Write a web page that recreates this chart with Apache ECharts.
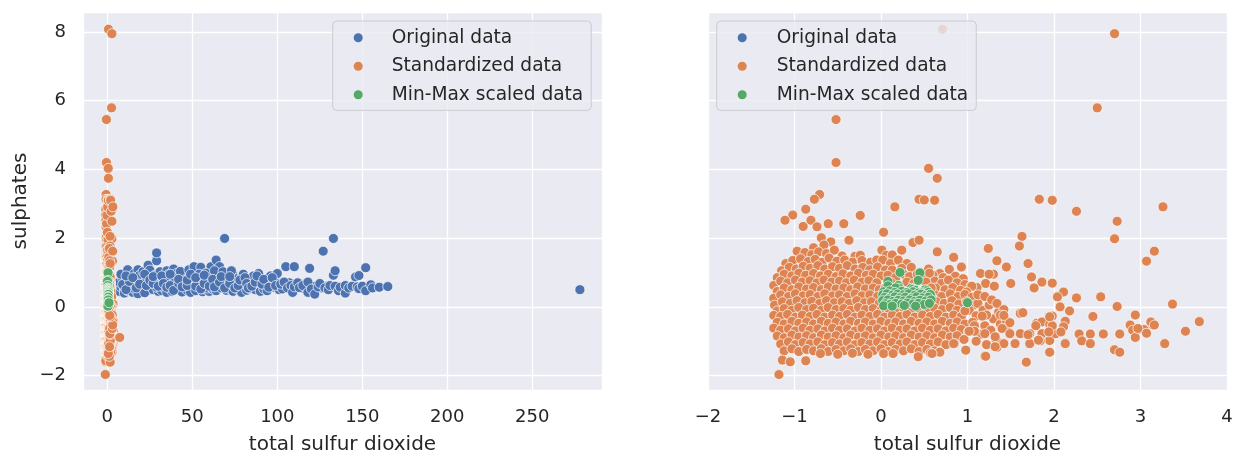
<!DOCTYPE html>
<html>
<head>
<meta charset="utf-8">
<script src="https://cdn.jsdelivr.net/npm/echarts@6/dist/echarts.min.js"></script>
<style>
html,body{margin:0;padding:0;background:#fff;}
#chart{width:1242px;height:454px;}
</style>
</head>
<body>
<div id="chart"></div>
<script>
// ---------------- DATA ----------------
const seriesNames = ['Original data', 'Standardized data', 'Min-Max scaled data'];
const xAxisTitle = 'total sulfur dioxide';
const yAxisTitle = 'sulphates';
const leftXTicks = [0, 50, 100, 150, 200, 250];
const rightXTicks = [-2, -1, 0, 1, 2, 3, 4];
const yTicks = [-2, 0, 2, 4, 6, 8];

// Original data: [total sulfur dioxide, sulphates]
const originalData = [
[7,0.45],[8,0.58],[7,0.72],[9,0.82],[10,0.52],[8,0.95],[11,0.66],[10,0.40],
[12,1.08],[13,0.85],[14,0.58],[12,0.47],[15,0.72],[16,0.98],[15,0.42],[14,0.63],[16,0.52],
[18,1.08],[19,0.79],[18,0.60],[20,0.50],[21,0.68],[19,0.92],[21,1.02],[20,0.44],[17,0.71],[18,0.38],
[22,0.58],[23,0.87],[24,1.21],[25,0.64],[24,0.48],[26,0.97],[23,0.73],[26,0.55],[25,1.07],[22,0.41],
[28,0.62],[29,1.34],[29,1.57],[30,0.82],[27,0.50],[31,0.70],[28,0.92],[30,0.45],[31,1.02],[29,0.57],
[33,0.60],[34,0.85],[32,0.47],[35,1.05],[36,0.66],[33,0.76],[34,0.52],[36,0.94],[35,0.42],
[38,0.58],[39,1.10],[37,0.78],[40,0.65],[41,0.88],[38,0.45],[40,0.52],[39,0.70],[41,0.98],
[43,0.62],[44,0.83],[42,0.50],[45,0.72],[46,0.55],[44,0.43],[45,0.95],[43,1.03],[46,0.66],
[48,1.08],[49,0.60],[47,0.48],[50,0.73],[51,0.90],[48,0.85],[50,0.52],[51,1.17],[49,0.42],
[53,0.63],[54,0.80],[52,0.47],[55,1.15],[56,0.58],[54,0.95],[53,0.72],[56,0.44],[55,0.67],
[58,0.60],[59,0.86],[57,0.52],[60,0.74],[61,1.17],[58,0.98],[60,0.45],[61,0.64],[59,0.55],
[63,0.68],[64,1.36],[65,0.92],[62,0.52],[66,1.17],[63,1.05],[66,0.60],[64,0.47],[65,0.78],
[68,0.73],[69,1.99],[67,0.55],[70,0.88],[71,0.62],[68,1.02],[70,0.48],[69,0.66],[71,0.80],
[73,0.60],[74,0.93],[72,0.52],[75,0.70],[76,0.82],[74,0.45],[73,1.05],[76,0.58],
[78,0.66],[79,0.85],[77,0.50],[80,0.72],[81,0.60],[79,0.42],[80,0.95],
[83,0.62],[84,0.78],[82,0.48],[85,0.70],[86,0.90],[84,0.53],
[88,0.65],[89,0.82],[87,0.50],[90,0.73],[91,0.58],[89,0.97],[90,0.45],
[93,0.62],[94,0.80],[92,0.52],[95,0.68],[96,0.90],[94,0.47],
[98,0.57],[99,0.75],[97,0.65],[100,0.97],[101,0.50],[100,0.68],
[9,0.65],[11,0.50],[13,0.74],[11,0.90],[15,0.85],[17,0.55],[19,0.66],[22,0.95],[23,0.62],[25,0.78],
[27,0.68],[27,0.88],[30,0.60],[32,0.90],[33,0.68],[35,0.57],[37,0.62],[37,0.95],[39,0.48],[42,0.68],
[42,0.80],[44,0.58],[47,0.62],[47,0.78],[49,0.95],[52,0.60],[52,0.85],[55,0.52],[57,0.68],[57,0.92],
[60,0.60],[62,0.80],[63,0.58],[66,0.72],[67,0.88],[69,0.55],[72,0.68],[72,0.88],[75,0.55],[77,0.62],
[78,0.78],[81,0.85],[82,0.68],[83,0.55],[85,0.60],[87,0.72],[88,0.90],[91,0.66],[92,0.80],[95,0.57],
[97,0.85],[99,0.62],[103,0.52],[107,0.70],[111,0.62],[114,0.66],[116,0.52],[121,0.60],[126,0.55],[129,0.60],
[102,0.66],[104,0.72],[105,1.17],[106,0.55],[108,0.62],[109,0.42],[110,1.17],[110,0.58],[112,0.70],[113,0.56],
[115,0.62],[118,0.42],[118,0.72],[119,1.12],[120,0.52],[122,0.37],[124,0.58],[125,0.68],[127,1.62],[128,0.55],
[130,0.50],[131,0.62],[133,1.99],[133,0.92],[134,1.05],[134,0.60],[136,0.47],[137,0.57],[140,0.40],[140,0.62],
[142,0.55],[144,0.60],[146,0.87],[147,0.58],[148,0.91],[148,0.53],[150,0.60],[152,1.14],[152,0.47],[155,0.64],
[156,0.55],[160,0.57],[165,0.59],[278,0.50]
];

// Standardized data: [total sulfur dioxide (z), sulphates (z)]
const standardizedData = [
[-0.69,2.01],[-0.58,1.89],[-0.66,1.80],[-0.37,1.94],[0.37,1.87],[0.44,1.94],[0.65,1.60],[-0.78,1.72],
[-0.97,1.62],[-0.88,1.58],[-0.80,1.52],[-0.72,1.60],[-0.63,1.55],[-0.54,1.65],[-0.45,1.48],[-0.30,1.47],[-0.24,1.50],[0.01,1.65],[0.06,1.50],[0.24,1.65],[0.13,1.51],
[-1.10,1.26],[-1.02,1.35],[-0.93,1.40],[-0.84,1.32],[-0.76,1.38],[-0.68,1.30],[-0.60,1.42],[-0.51,1.33],[-0.42,1.36],[-0.33,1.30],[-0.22,1.35],[-0.12,1.30],[-0.05,1.36],[0.02,1.36],[0.11,1.26],[0.20,1.36],[0.30,1.26],[0.84,1.44],[0.93,1.15],
[-1.15,1.05],[-1.06,1.15],[-0.98,1.10],[-0.90,1.18],[-0.82,1.12],[-0.73,1.20],[-0.65,1.10],[-0.56,1.17],[-0.48,1.12],[-0.39,1.20],[-0.30,1.10],[-0.21,1.15],[-0.13,1.08],[-0.04,1.16],[0.05,1.07],[0.13,1.07],[0.24,1.12],[0.35,1.15],[0.55,1.10],[0.68,0.97],[0.79,1.09],[0.86,0.89],
[-1.20,0.85],[-1.12,0.95],[-1.03,0.90],[-0.95,0.98],[-0.87,0.92],[-0.78,0.97],[-0.70,0.90],[-0.61,0.95],[-0.52,0.88],[-0.44,0.96],[-0.35,0.90],[-0.26,0.98],[-0.17,0.92],[-0.09,0.95],[0.00,0.90],[0.60,0.92],[0.72,0.85],[0.95,0.82],
[-1.24,0.62],[-1.16,0.75],[-1.08,0.70],[-0.99,0.78],[-0.91,0.72],[-0.82,0.76],[-0.74,0.70],[-0.66,0.78],[-0.57,0.72],[-0.48,0.75],[-0.40,0.70],[-0.31,0.78],[-0.22,0.72],[-0.14,0.76],[-0.05,0.70],[0.62,0.75],[0.70,0.68],[0.78,0.78],[0.88,0.70],[0.97,0.65],[1.04,0.60],[1.11,0.56],
[-1.20,0.45],[-1.12,0.55],[-1.03,0.50],[-0.95,0.58],[-0.86,0.52],[-0.78,0.56],[-0.69,0.50],[-0.61,0.58],[-0.52,0.52],[-0.43,0.55],[-0.35,0.50],[-0.27,0.58],[-0.18,0.52],[-0.09,0.55],[-0.02,0.50],[0.63,0.55],[0.74,0.50],[0.83,0.56],[0.92,0.48],[1.05,0.60],[0.99,0.43],
[-1.24,0.25],[-1.16,0.35],[-1.07,0.30],[-0.99,0.38],[-0.90,0.32],[-0.82,0.36],[-0.73,0.30],[-0.65,0.38],[-0.56,0.32],[-0.48,0.35],[-0.39,0.30],[-0.30,0.38],[-0.22,0.32],[-0.13,0.35],[-0.04,0.30],[0.62,0.35],[0.70,0.30],[0.80,0.38],[0.89,0.30],[0.97,0.36],[1.05,0.28],
[-1.23,0.05],[-1.14,0.15],[-1.05,0.10],[-0.97,0.18],[-0.88,0.12],[-0.80,0.16],[-0.71,0.10],[-0.63,0.18],[-0.54,0.12],[-0.45,0.15],[-0.37,0.10],[-0.28,0.18],[-0.19,0.12],[-0.11,0.15],[-0.02,0.10],[0.64,0.15],[0.73,0.10],[0.82,0.18],[0.90,0.08],[0.99,0.15],[1.07,0.05],
[-1.20,-0.12],[-1.12,-0.05],[-1.03,-0.10],[-0.95,-0.02],[-0.86,-0.08],[-0.78,-0.04],[-0.69,-0.10],[-0.61,-0.02],[-0.52,-0.08],[-0.43,-0.05],[-0.35,-0.10],[-0.26,-0.02],[-0.18,-0.08],[-0.09,-0.05],[0.00,-0.10],[0.08,-0.04],[0.17,-0.08],[0.26,-0.02],[0.35,-0.10],[0.44,-0.05],[0.53,-0.10],[0.62,-0.04],[0.71,-0.08],[0.80,-0.02],[0.88,-0.10],[0.97,-0.12],[1.02,-0.10],
[-1.24,-0.25],[-1.16,-0.28],[-1.08,-0.22],[-0.99,-0.30],[-0.91,-0.24],[-0.82,-0.28],[-0.74,-0.22],[-0.65,-0.30],[-0.56,-0.24],[-0.48,-0.28],[-0.39,-0.22],[-0.30,-0.30],[-0.22,-0.24],[-0.13,-0.28],[-0.04,-0.22],[0.04,-0.30],[0.13,-0.24],[0.22,-0.28],[0.30,-0.22],[0.39,-0.30],[0.48,-0.24],[0.57,-0.28],[0.66,-0.22],[0.75,-0.30],[0.84,-0.24],[0.93,-0.28],[1.10,-0.26],
[-1.20,-0.45],[-1.12,-0.50],[-1.03,-0.42],[-0.95,-0.48],[-0.86,-0.44],[-0.78,-0.50],[-0.69,-0.42],[-0.61,-0.48],[-0.52,-0.44],[-0.43,-0.50],[-0.35,-0.42],[-0.26,-0.48],[-0.18,-0.44],[-0.09,-0.50],[0.00,-0.42],[0.09,-0.48],[0.17,-0.44],[0.26,-0.50],[0.35,-0.42],[0.44,-0.48],[0.53,-0.44],[0.62,-0.50],[0.71,-0.42],[0.80,-0.48],[0.88,-0.44],[0.97,-0.50],[1.06,-0.45],
[-1.24,-0.62],[-1.16,-0.68],[-1.07,-0.64],[-0.99,-0.70],[-0.90,-0.62],[-0.82,-0.68],[-0.73,-0.64],[-0.65,-0.70],[-0.56,-0.62],[-0.48,-0.68],[-0.39,-0.64],[-0.30,-0.70],[-0.22,-0.62],[-0.13,-0.68],[-0.04,-0.64],[0.04,-0.70],[0.13,-0.62],[0.22,-0.68],[0.30,-0.64],[0.39,-0.70],[0.48,-0.62],[0.57,-0.68],[0.66,-0.64],[0.75,-0.70],[0.84,-0.62],[0.93,-0.66],[1.01,-0.72],
[-1.20,-0.85],[-1.12,-0.90],[-1.03,-0.82],[-0.95,-0.88],[-0.86,-0.84],[-0.78,-0.90],[-0.69,-0.82],[-0.61,-0.88],[-0.52,-0.84],[-0.43,-0.90],[-0.35,-0.82],[-0.26,-0.88],[-0.18,-0.84],[-0.09,-0.90],[0.00,-0.82],[0.09,-0.88],[0.17,-0.84],[0.26,-0.90],[0.35,-0.82],[0.44,-0.88],[0.53,-0.84],[0.62,-0.90],[0.71,-0.82],[0.80,-0.88],[0.88,-0.84],[0.96,-0.95],
[-1.16,-1.08],[-1.07,-1.02],[-0.99,-1.10],[-0.90,-1.04],[-0.82,-1.08],[-0.73,-1.02],[-0.65,-1.10],[-0.56,-1.04],[-0.48,-1.08],[-0.39,-1.02],[-0.30,-1.10],[-0.22,-1.04],[-0.13,-1.08],[-0.04,-1.02],[0.04,-1.10],[0.13,-1.04],[0.22,-1.08],[0.30,-1.02],[0.39,-1.10],[0.48,-1.04],[0.57,-1.08],[0.66,-1.02],[0.75,-1.10],[0.85,-1.07],
[-1.12,-1.28],[-1.03,-1.22],[-0.95,-1.30],[-0.86,-1.24],[-0.78,-1.28],[-0.69,-1.22],[-0.61,-1.30],[-0.52,-1.24],[-0.43,-1.28],[-0.35,-1.22],[-0.26,-1.30],[-0.18,-1.24],[-0.09,-1.28],[0.00,-1.22],[0.09,-1.30],[0.17,-1.24],[0.26,-1.28],[0.35,-1.22],[0.44,-1.30],[0.53,-1.24],[0.62,-1.28],[0.98,-1.26],
[-1.14,-1.55],[-1.05,-1.60],[-0.87,-1.57],[-0.70,-1.36],[-0.50,-1.38],[-0.33,-1.35],[-0.15,-1.38],[0.03,-1.36],[0.14,-1.36],[0.43,-1.45],[0.57,-1.34],[0.68,-1.31],[1.20,-1.43],[-1.18,-1.97],
[0.08,0.92],[0.17,0.85],[0.26,0.95],[0.33,0.88],[0.42,0.95],[0.50,0.85],[0.56,0.98],[0.12,0.70],[0.30,0.72],[0.38,0.68],[0.52,0.72],[0.05,0.55],[0.58,0.55],[0.05,0.30],[0.58,0.30],[0.30,0.35],[0.15,0.25],[0.45,0.20],
[1.12,0.10],[1.18,-0.10],[1.25,0.05],[1.30,-0.35],[1.20,-0.55],[1.27,-0.68],[1.15,-0.80],[1.33,-0.95],[1.10,-1.00],[1.22,-1.10],[1.38,-0.50],[1.45,-0.40],[1.12,0.35],[1.20,0.30],[1.28,0.20],[1.36,-0.15],[1.45,-0.62],[1.08,-0.55],
[-0.52,5.45],[-0.52,4.20],[-0.71,3.27],[-0.77,3.13],[-0.87,2.84],[-1.02,2.67],[-1.11,2.52],[-0.81,2.52],[-0.90,2.34],[-0.74,2.33],[-0.61,2.42],[-0.43,2.42],[-0.24,2.66],[0.03,2.17],[0.16,2.91],
[0.55,4.03],[0.65,3.74],[0.44,3.13],[0.50,3.11],[0.62,3.10],[0.71,8.08],[2.70,7.95],[2.50,5.79],[1.83,3.13],[1.98,3.10],[2.26,2.78],[3.26,2.91],[2.73,2.49],[2.70,1.98],
[1.63,2.05],[1.60,1.77],[1.24,1.70],[3.16,1.62],[3.07,1.33],[1.34,1.34],[0.93,1.16],[1.45,1.16],[1.70,1.26],[1.15,0.97],[1.30,0.95],[1.25,0.95],[1.74,0.87],[1.86,0.72],[1.98,0.69],
[1.50,0.68],[1.77,0.55],[1.21,0.68],[1.31,0.60],[2.11,0.43],[2.04,0.29],[2.26,0.26],[2.54,0.29],[3.37,0.08],[2.73,0.01],[2.07,0.00],[2.18,-0.12],[1.34,0.10],[1.42,-0.08],
[1.38,-0.24],[1.61,-0.19],[1.64,-0.17],[1.22,-0.24],[1.17,-0.27],[0.97,-0.12],[1.98,-0.27],[2.45,-0.28],[2.94,-0.24],[3.68,-0.43],[2.13,-0.42],[1.49,-0.46],[1.80,-0.48],[1.86,-0.44],
[1.95,-0.51],[3.14,-0.53],[3.12,-0.44],[2.88,-0.53],[2.91,-0.68],[2.98,-0.65],[3.04,-0.66],[3.07,-0.77],[2.94,-0.89],[3.52,-0.71],[3.28,-1.07],[2.76,-0.79],[2.57,-0.79],[2.42,-0.79],
[2.29,-0.79],[2.32,-0.99],[2.42,-1.07],[2.70,-1.25],[2.76,-1.32],[2.13,-1.07],[1.95,-0.98],[1.95,-1.32],[2.02,-0.78],[1.86,-0.78],[1.72,-0.78],[1.61,-0.78],[1.55,-1.07],[1.72,-1.07],
[1.84,-0.99],[1.68,-1.61],[1.21,-1.44],[1.34,-1.18],[1.42,-1.07],[1.32,-0.87],[1.20,-0.78],[1.08,-0.71],[1.02,-0.71],[0.84,-1.07],[0.68,-1.32],[0.59,-1.36],[1.79,-0.55],[1.98,-0.55],
[1.94,-0.73],[2.11,-0.58],[2.08,-0.73],[1.82,-0.97],[1.70,-0.81],[1.40,-0.63],[1.49,-0.78],[2.97,-0.63],[3.16,-0.53],[1.95,-0.29],[1.42,-0.25],[1.32,-1.16],[7.3,-0.89]
];

// Min-Max scaled data: [total sulfur dioxide (0-1), sulphates (0-1)]
const minMaxData = [
[0.22,1.00],[0.45,0.99],[0.43,0.77],[0.08,0.74],[0.08,0.61],[0.20,0.62],[0.21,0.54],[0.17,0.55],[0.35,0.54],[0.37,0.51],[0.40,0.48],[0.47,0.45],[0.51,0.50],[0.53,0.47],[0.50,0.40],[0.45,0.42],
[0.03,0.44],[0.10,0.46],[0.16,0.42],[0.24,0.45],[0.30,0.42],[0.37,0.44],[0.43,0.40],[0.55,0.42],
[0.02,0.35],[0.07,0.38],[0.13,0.34],[0.19,0.37],[0.26,0.35],[0.32,0.38],[0.39,0.34],[0.46,0.37],[0.52,0.33],[0.57,0.36],
[0.04,0.27],[0.10,0.25],[0.16,0.29],[0.22,0.26],[0.28,0.28],[0.35,0.25],[0.41,0.29],[0.48,0.26],[0.55,0.28],
[0.02,0.18],[0.08,0.20],[0.14,0.16],[0.20,0.19],[0.26,0.17],[0.33,0.20],[0.39,0.16],[0.45,0.19],[0.52,0.17],[0.58,0.20],
[0.05,0.09],[0.11,0.07],[0.17,0.10],[0.24,0.08],[0.30,0.11],[0.37,0.08],[0.43,0.10],[0.50,0.07],[0.56,0.10],
[0.03,0.03],[0.13,0.02],[0.27,0.04],[0.40,0.02],[1.00,0.12]
];

// ---------------- CHART ----------------
const colors = ['#4C72B0', '#DD8452', '#55A868'];
const datasets = [originalData, standardizedData, minMaxData];
const FONT = 'DejaVu Sans';
const TXT = '#262626';

function fmtNum(v) {
  return v < 0 ? '\u2212' + Math.abs(v) : String(v);
}
function tickFormatter(ticks) {
  return function (v) {
    for (const t of ticks) { if (Math.abs(v - t) < 1e-6) return fmtNum(t); }
    return '';
  };
}

const gridBg = '#EAEAF2';
const splitLine = { show: true, lineStyle: { color: '#ffffff', width: 1.3 } };

function xAxisCfg(gridIndex, min, max, ticks, interval) {
  const cfg = {
    type: 'value', gridIndex, min, max,
    name: xAxisTitle, nameLocation: 'middle', nameGap: 45,
    nameTextStyle: { fontFamily: FONT, fontSize: 20, color: TXT },
    axisLine: { show: false }, axisTick: { show: false },
    axisLabel: { fontFamily: FONT, fontSize: 18, color: TXT, margin: 18, formatter: tickFormatter(ticks) },
    splitLine
  };
  if (interval) cfg.interval = interval;
  return cfg;
}
function yAxisCfg(gridIndex, showLabels) {
  return {
    type: 'value', gridIndex, min: -2.42, max: 8.58,
    name: showLabels ? yAxisTitle : '', nameLocation: 'middle', nameGap: 52,
    nameTextStyle: { fontFamily: FONT, fontSize: 20, color: TXT },
    axisLine: { show: false }, axisTick: { show: false },
    axisLabel: { show: showLabels, fontFamily: FONT, fontSize: 18, color: TXT, margin: 17, formatter: tickFormatter(yTicks) },
    splitLine
  };
}

const series = [];
[0, 1].forEach(function (g) {
  datasets.forEach(function (d, i) {
    series.push({
      type: 'scatter', name: seriesNames[i], xAxisIndex: g, yAxisIndex: g,
      data: d, symbol: 'circle', symbolSize: 10,
      itemStyle: { color: colors[i], borderColor: '#ffffff', borderWidth: 0.7, opacity: 1 },
      emphasis: { disabled: true }, silent: true, animation: false, clip: true,
      progressive: 0, large: false
    });
  });
});

function legendCfg(left, textPad) {
  return {
    orient: 'vertical', left, top: 21,
    data: seriesNames, icon: 'circle', itemWidth: 9, itemHeight: 9, itemGap: 8.5,
    padding: [6.7, 8, 5.7, 21],
    backgroundColor: 'rgba(234,234,242,0.8)', borderColor: 'rgba(200,200,205,0.9)', borderWidth: 1, borderRadius: 4,
    itemStyle: { borderWidth: 0 },
    textStyle: { fontFamily: FONT, fontSize: 18.6, color: TXT, lineHeight: 20, padding: [0, 0, 0, textPad] },
    selectedMode: false
  };
}

const chart = echarts.init(document.getElementById('chart'), null, { renderer: 'canvas' });
chart.setOption({
  animation: false,
  backgroundColor: '#ffffff',
  grid: [
    { left: 83, top: 12, width: 519, height: 378, show: true, backgroundColor: gridBg, borderWidth: 0, containLabel: false, outerBoundsMode: 'none' },
    { left: 708, top: 12, width: 519, height: 378, show: true, backgroundColor: gridBg, borderWidth: 0, containLabel: false, outerBoundsMode: 'none' }
  ],
  xAxis: [
    xAxisCfg(0, -14.3, 291, leftXTicks),
    xAxisCfg(1, -2, 4, rightXTicks, 1)
  ],
  yAxis: [yAxisCfg(0, true), yAxisCfg(1, false)],
  legend: [legendCfg(332.7, 24), legendCfg(716.7, 25)],
  series
});
</script>
</body>
</html>
